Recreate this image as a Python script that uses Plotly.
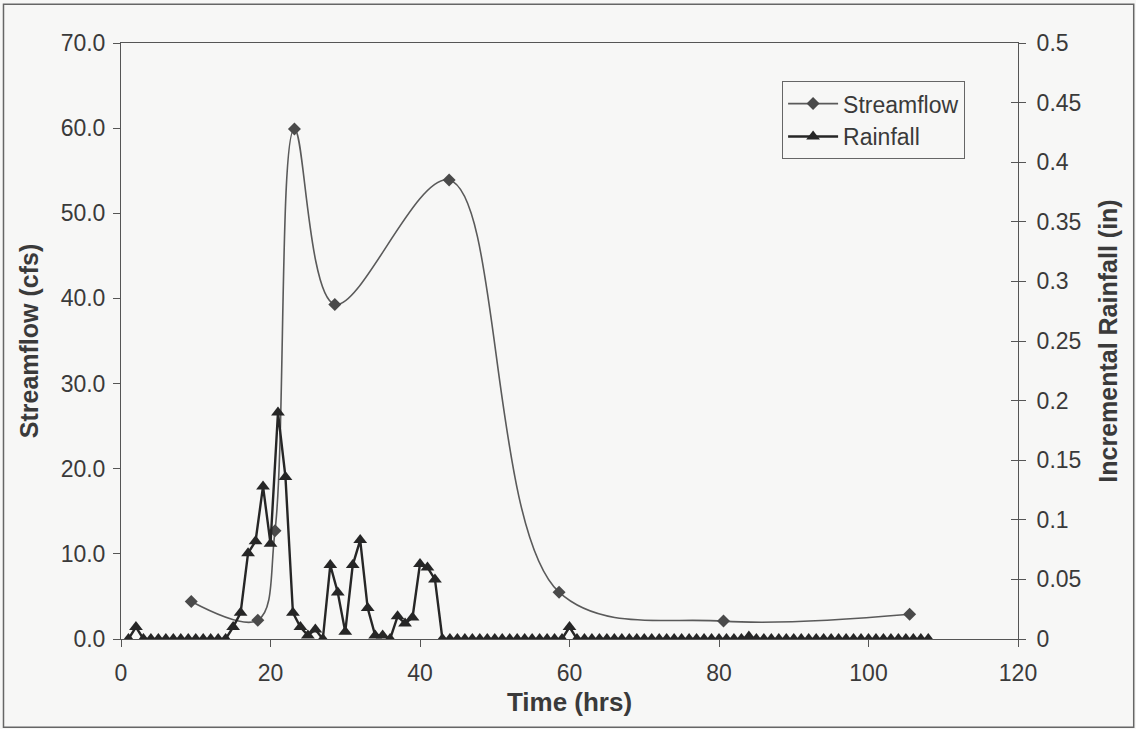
import plotly.graph_objects as go

# Streamflow observations (hours, cfs)
flow_time = [9.4, 18.3, 20.6, 23.2, 28.6, 43.9, 58.6, 80.6, 105.5]
flow_cfs = [4.4, 2.2, 12.7, 59.9, 39.3, 53.9, 5.5, 2.1, 2.9]

# Hourly incremental rainfall (in), hours 1..108
rain_time = list(range(1, 109))
rain_in = (
    [0, 0.01] + [0] * 12
    + [0.010, 0.022, 0.072, 0.082, 0.128, 0.080, 0.190, 0.136, 0.022, 0.010,
       0.003, 0.008, 0, 0.062, 0.039, 0.006, 0.062, 0.083, 0.026, 0.003,
       0.003, 0, 0.019, 0.013, 0.018, 0.063, 0.060, 0.050]
    + [0] * 17 + [0.01] + [0] * 23 + [0.002] + [0] * 24
)

x_ticks = [0, 20, 40, 60, 80, 100, 120]

FONT = "Liberation Sans, Arial, sans-serif"
INK = "#3a3a3a"
AXIS = "#555555"
BG = "#f7f7f6"

fig = go.Figure()

fig.add_trace(go.Scatter(
    x=flow_time, y=flow_cfs, name="Streamflow",
    mode="lines+markers",
    line=dict(color="#5a5a5a", width=1.6, shape="spline", smoothing=1.0),
    marker=dict(symbol="diamond", size=10, color="#4a4a4a"),
    yaxis="y",
))

fig.add_trace(go.Scatter(
    x=rain_time, y=rain_in, name="Rainfall",
    mode="lines+markers",
    line=dict(color="#262626", width=2.4),
    marker=dict(symbol="triangle-up", size=12, color="#262626"),
    yaxis="y2",
))

fig.update_layout(
    width=1136, height=729,
    margin=dict(l=121, r=118, t=43, b=90),
    paper_bgcolor=BG, plot_bgcolor=BG,
    font=dict(family=FONT, size=23, color=INK),
    showlegend=True,
    legend=dict(
        x=0.737, y=0.936, xanchor="left", yanchor="top",
        bgcolor=BG, bordercolor="#666666", borderwidth=1,
        font=dict(size=23, color=INK),
        itemwidth=50,
        tracegroupgap=0,
    ),
    xaxis=dict(
        range=[0, 120], tickvals=x_ticks,
        showline=True, linecolor=AXIS, linewidth=1, mirror=True,
        ticks="outside", ticklen=7, tickcolor=AXIS,
        showgrid=False, zeroline=False,
        ticklabelstandoff=6,
        title=dict(text="<b>Time (hrs)</b>", font=dict(size=26), standoff=8),
    ),
    yaxis=dict(
        range=[0, 70], dtick=10, tickformat=".1f",
        showline=True, linecolor=AXIS, linewidth=1,
        ticks="outside", ticklen=7, tickcolor=AXIS,
        showgrid=False, zeroline=False,
        ticklabelstandoff=3,
        title=dict(text="<b>Streamflow (cfs)</b>", font=dict(size=25), standoff=14),
    ),
    yaxis2=dict(
        range=[0, 0.5], dtick=0.05,
        overlaying="y", side="right", anchor="x",
        showline=True, linecolor=AXIS, linewidth=1,
        ticks="outside", ticklen=7, tickcolor=AXIS,
        showgrid=False, zeroline=False,
        ticklabelstandoff=6,
        title=dict(text="<b>Incremental Rainfall (in)</b>", font=dict(size=25), standoff=19),
    ),
    yaxis3=dict(
        range=[0, 0.5], dtick=0.05,
        overlaying="y", side="right", anchor="x",
        showline=False, showticklabels=False,
        ticks="inside", ticklen=7, tickcolor=AXIS,
        showgrid=False, zeroline=False,
    ),
    shapes=[dict(
        type="rect", xref="paper", yref="paper",
        x0=-0.131, x1=1.129, y0=-0.148, y1=1.065,
        line=dict(color="#666666", width=1.5), layer="below",
    )],
)

# empty trace so the inner tick set is drawn
fig.add_trace(go.Scatter(x=[None], y=[None], yaxis="y3", showlegend=False, hoverinfo="skip"))

fig.write_html("out.html")
